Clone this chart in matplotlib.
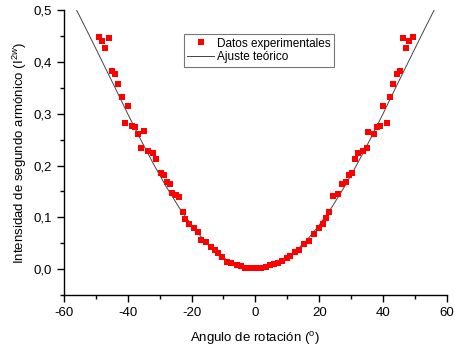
import matplotlib
matplotlib.use("Agg")
import matplotlib.pyplot as plt
from matplotlib.ticker import MultipleLocator, FuncFormatter

plt.rcParams['font.family'] = ['Liberation Sans', 'DejaVu Sans']
plt.rcParams['mathtext.fontset'] = 'custom'
plt.rcParams['mathtext.rm'] = 'Liberation Sans'
plt.rcParams['mathtext.it'] = 'Liberation Sans:italic'

# Experimental data (angle in degrees, intensity)
exp_x = [-49.0, -47.9, -45.9, -47.0, -44.9, -43.9, -42.9, -41.8, -39.9, -40.9,
         -38.8, -37.8, -34.9, -36.7, -35.7, -33.6, -32.0, -31.0, -29.7, -28.7,
         -27.8, -26.8, -26.0, -24.9, -23.9, -22.8, -21.9, -20.7, -19.2, -17.9,
         -16.9, -15.6, -14.0, -12.7, -11.7, -10.3, -8.8, -7.5, -5.9, -4.6,
         -3.3, -2.3, -0.9, 0.6, 1.9, 3.3, 4.5, 5.8, 7.2, 8.4,
         10.0, 11.0, 12.4, 13.7, 15.2, 16.9, 18.3, 19.9, 21.1, 22.1,
         23.1, 24.4, 26.0, 27.0, 28.4, 29.3, 30.2, 31.2, 32.2, 33.6,
         35.0, 35.4, 37.1, 38.0, 39.0, 40.1, 41.1, 42.2, 43.2, 44.3,
         45.3, 46.1, 47.2, 48.2, 49.3]
exp_y = [0.448, 0.441, 0.447, 0.427, 0.382, 0.376, 0.358, 0.333, 0.315, 0.283,
         0.277, 0.274, 0.266, 0.261, 0.233, 0.228, 0.225, 0.212, 0.186, 0.181,
         0.169, 0.164, 0.147, 0.143, 0.140, 0.111, 0.096, 0.088, 0.080, 0.072,
         0.056, 0.053, 0.042, 0.037, 0.032, 0.024, 0.014, 0.011, 0.008, 0.006,
         0.003, 0.003, 0.003, 0.003, 0.003, 0.005, 0.008, 0.010, 0.012, 0.015,
         0.022, 0.025, 0.034, 0.037, 0.048, 0.054, 0.068, 0.080, 0.088, 0.098,
         0.111, 0.141, 0.146, 0.164, 0.169, 0.181, 0.186, 0.212, 0.225, 0.228,
         0.233, 0.265, 0.261, 0.275, 0.277, 0.315, 0.283, 0.333, 0.358, 0.376,
         0.382, 0.447, 0.427, 0.441, 0.448]

# Theoretical fit curve
fit_x = [-56, -52, -48, -44, -40, -36, -32, -28, -24, -20, -16, -12, -8, -4, 0,
         4, 8, 12, 16, 20, 24, 28, 32, 36, 40, 44, 48, 52, 56]
fit_y = [0.500, 0.451, 0.401, 0.351, 0.300, 0.251, 0.204, 0.160, 0.120, 0.085,
         0.055, 0.031, 0.014, 0.0035, 0.0, 0.0035, 0.014, 0.031, 0.055, 0.085,
         0.120, 0.160, 0.204, 0.251, 0.300, 0.351, 0.401, 0.451, 0.500]

fig = plt.figure(figsize=(4.56, 3.5), dpi=100)
ax = fig.add_axes([0.140, 0.157, 0.840, 0.814])

ax.plot(exp_x, exp_y, 's', color='#ff0000', markersize=5, markeredgewidth=0,
        label='Datos experimentales', zorder=3)
ax.plot(fit_x, fit_y, '-', color='#444444', linewidth=0.7,
        label='Ajuste teórico', zorder=2)

ax.set_xlim(-60, 60)
ax.set_ylim(-0.05, 0.5)
ax.xaxis.set_major_locator(MultipleLocator(20))
ax.xaxis.set_minor_locator(MultipleLocator(10))
ax.yaxis.set_major_locator(MultipleLocator(0.1))
ax.yaxis.set_minor_locator(MultipleLocator(0.05))
ax.yaxis.set_major_formatter(FuncFormatter(lambda v, p: f"{v:.1f}".replace('.', ',').replace('-0,0', '0,0')))
ax.xaxis.set_major_formatter(FuncFormatter(lambda v, p: f"{v:.0f}"))

for s in ['top', 'right']:
    ax.spines[s].set_visible(False)
for s in ['left', 'bottom']:
    ax.spines[s].set_linewidth(1.0)
ax.tick_params(which='major', direction='out', length=5, width=1, labelsize=9.5)
ax.tick_params(which='minor', direction='out', length=3, width=1)

ax.set_xlabel('Angulo de rotación ($^{\\mathregular{o}}$)', fontsize=9.5, labelpad=8)
ax.set_ylabel('Intensidad de segundo armónico (I$^{2w}$)', fontsize=9.5, labelpad=3)

leg = ax.legend(loc='upper center', bbox_to_anchor=(0.509, 0.916), fontsize=8.5,
                frameon=True, fancybox=False, edgecolor='#555555',
                handlelength=2.3, handletextpad=0.2, borderpad=0.3,
                labelspacing=0.15, numpoints=1, borderaxespad=0)
leg.get_frame().set_linewidth(0.8)

fig.savefig('out.png', dpi=100)
